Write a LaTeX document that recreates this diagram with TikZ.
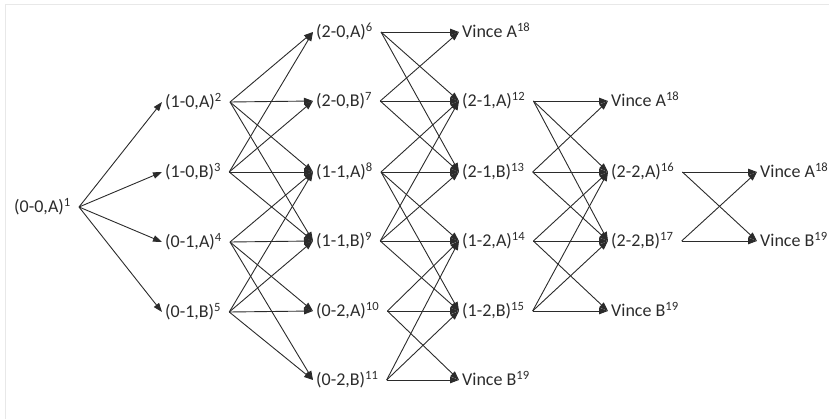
\documentclass[tikz,border=0pt]{standalone}
\usepackage{fontspec}
\setmainfont{Carlito}
\usepackage{xcolor}
\usetikzlibrary{arrows.meta}
\definecolor{Ink}{HTML}{2B2B2B}
\definecolor{Frame}{HTML}{E8E8E8}

\begin{document}
\begin{tikzpicture}[
    x=1pt, y=-1pt,
    font=\fontsize{18}{21}\selectfont,
    text=Ink,
    state/.style={
        anchor=west,
        inner sep=0pt,
        text height=13pt,
        text depth=2pt
    },
    leg/.style={
        -{Triangle[length=9pt,width=6.5pt]},
        line width=0.9pt,
        draw=Ink
    }
]

% Canvas and faint frame
\useasboundingbox (0,0) rectangle (829,419);
\draw[Frame, line width=1pt] (5,419) -- (5,5) -- (829,5);

% ===========================
% States, column by column
% ===========================

\node[state] (s1) at (14,207) {(0-0,A)\textsuperscript{1}};

\node[state] (s2) at (165,102) {(1-0,A)\textsuperscript{2}};
\node[state] (s3) at (165,172) {(1-0,B)\textsuperscript{3}};
\node[state] (s4) at (165,242) {(0-1,A)\textsuperscript{4}};
\node[state] (s5) at (165,312) {(0-1,B)\textsuperscript{5}};

\node[state] (s6) at (316,32) {(2-0,A)\textsuperscript{6}};
\node[state] (s7) at (316,101) {(2-0,B)\textsuperscript{7}};
\node[state] (s8) at (316,172) {(1-1,A)\textsuperscript{8}};
\node[state] (s9) at (316,241) {(1-1,B)\textsuperscript{9}};
\node[state] (s10) at (316,311) {(0-2,A)\textsuperscript{10}};
\node[state] (s11) at (316,380) {(0-2,B)\textsuperscript{11}};

\node[state] (va3) at (462,32) {Vince A\textsuperscript{18}};
\node[state] (s12) at (462,101) {(2-1,A)\textsuperscript{12}};
\node[state] (s13) at (462,172) {(2-1,B)\textsuperscript{13}};
\node[state] (s14) at (462,241) {(1-2,A)\textsuperscript{14}};
\node[state] (s15) at (462,311) {(1-2,B)\textsuperscript{15}};
\node[state] (vb3) at (462,380) {Vince B\textsuperscript{19}};

\node[state] (va4) at (611,101) {Vince A\textsuperscript{18}};
\node[state] (s16) at (611,172) {(2-2,A)\textsuperscript{16}};
\node[state] (s17) at (611,241) {(2-2,B)\textsuperscript{17}};
\node[state] (vb4) at (611,311) {Vince B\textsuperscript{19}};

\node[state] (va5) at (760,172) {Vince A\textsuperscript{18}};
\node[state] (vb5) at (760,241) {Vince B\textsuperscript{19}};

% ===========================
% Transitions
% ===========================

\foreach \a/\b in {s1/s2, s1/s3, s1/s4, s1/s5,
                   s2/s6, s2/s7, s2/s8, s2/s9,
                   s3/s6, s3/s7, s3/s8, s3/s9,
                   s4/s8, s4/s9, s4/s10, s4/s11,
                   s5/s8, s5/s9, s5/s10, s5/s11,
                   s6/va3, s6/s12, s6/s13,
                   s7/va3, s7/s12, s7/s13,
                   s8/s12, s8/s13, s8/s14, s8/s15,
                   s9/s12, s9/s13, s9/s14, s9/s15,
                   s10/s14, s10/s15, s10/vb3,
                   s11/s14, s11/s15, s11/vb3,
                   s12/va4, s12/s16, s12/s17,
                   s13/va4, s13/s16, s13/s17,
                   s14/s16, s14/s17, s14/vb4,
                   s15/s16, s15/s17, s15/vb4,
                   s16/va5, s16/vb5,
                   s17/va5, s17/vb5} {
    \draw[leg] ([xshift=8pt]\a.east) -- ([xshift=-3pt]\b.west);
}

\end{tikzpicture}
\end{document}
